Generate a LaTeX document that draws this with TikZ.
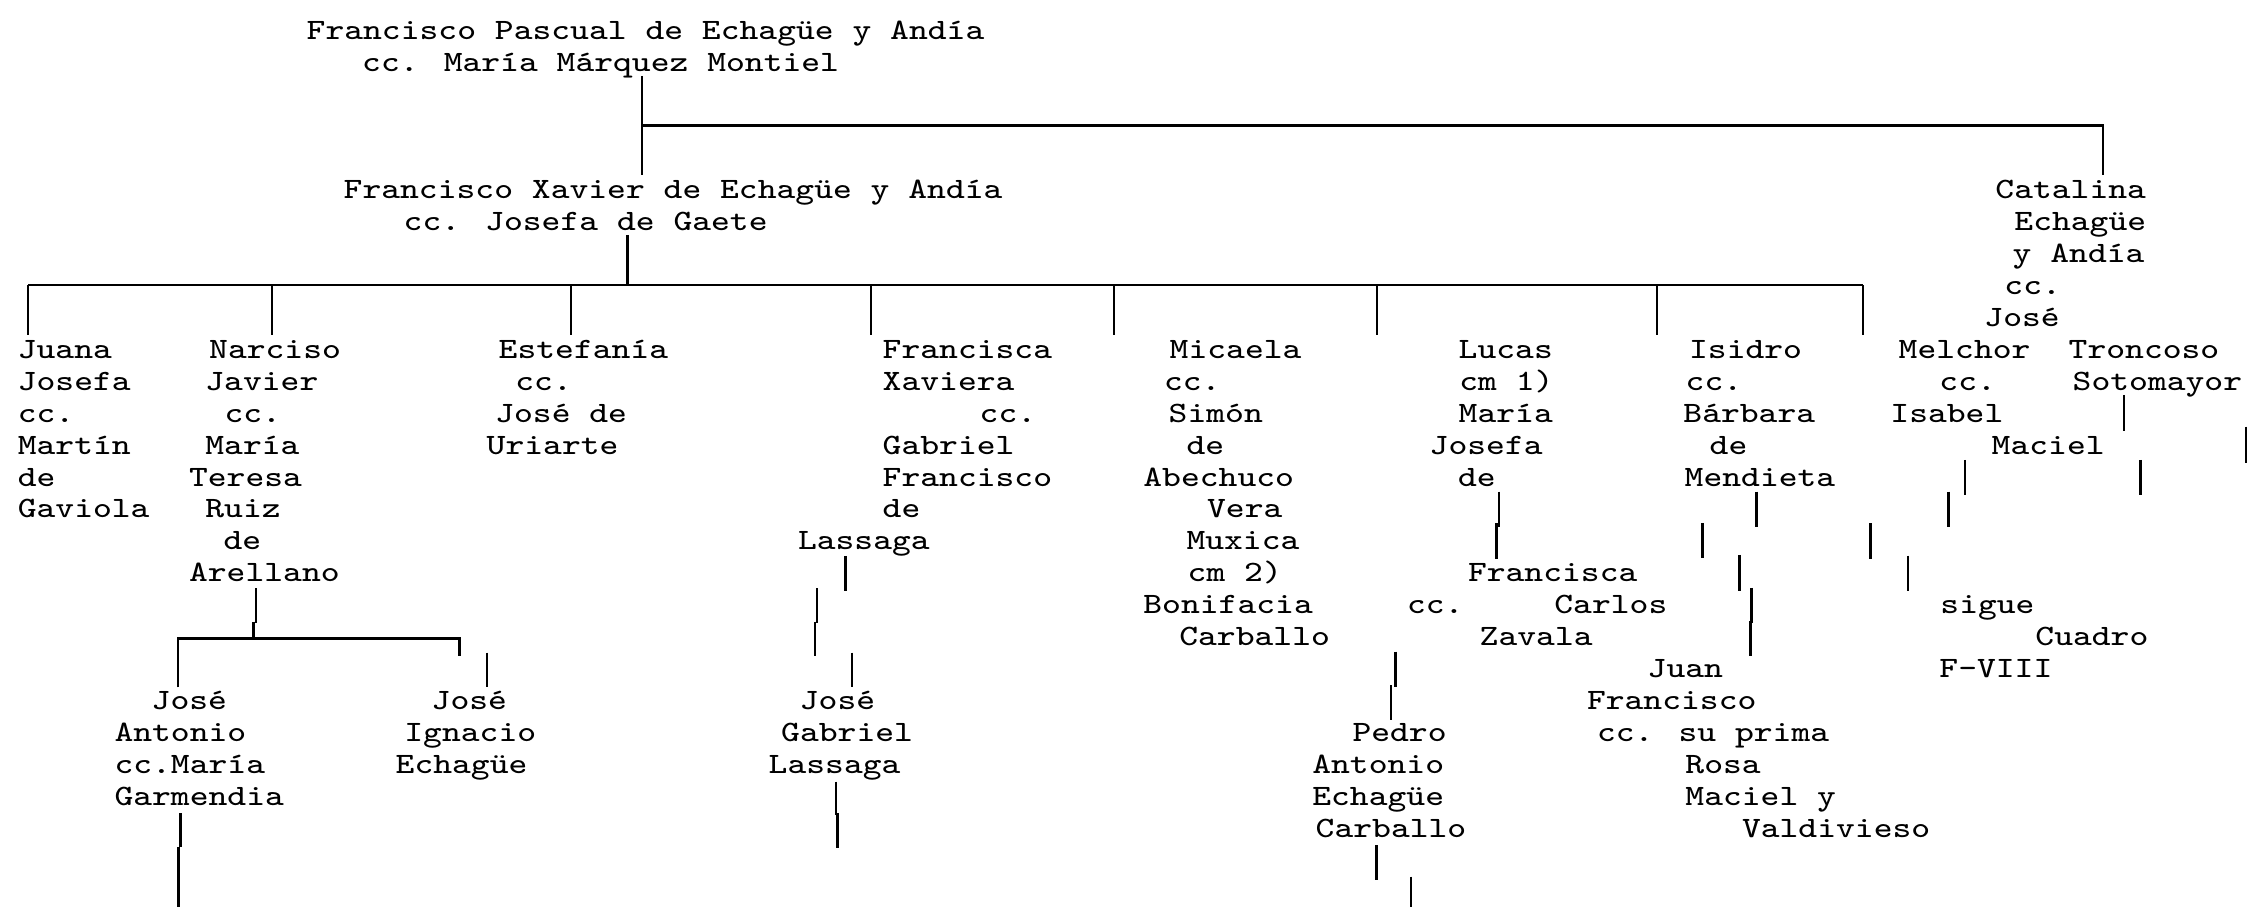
\documentclass[tikz,border=0pt]{standalone}
\usepackage{fontspec}
\newfontfamily\courfont[FakeStretch=1.2]{Latin Modern Mono}

\begin{document}
\begin{tikzpicture}
[lineFamily/.style={line width=0.8pt},%
  personLine/.style={anchor=base west, inner sep=0pt, xshift=-0.02cm,
    font=\courfont\fontsize{8.4pt}{9pt}\selectfont},%
  x=0.01cm, y=-0.01cm]
\useasboundingbox (0,0) rectangle (2252,907);
%% names, one node for each printed line (x, row)
\foreach \nodename/\x/\r/\txt in {
  pascualA/308/0/Francisco Pascual de Echagüe y Andía,
  pascualB/363.5/1/cc. María Márquez Montiel,
  xavierA/345/5/Francisco Xavier de Echagüe y Andía,
  xavierB/405/6/cc. Josefa de Gaete,
  catalinaA/1996.7/5/Catalina, catalinaB/2015.7/6/Echagüe,
  catalinaC/2014/7/y Andía, catalinaD/2005.7/8/cc.,
  catalinaE/1985.7/9/José, catalinaF/1900/10/Melchor,
  catalinaG/2070/10/Troncoso, catalinaH/1940.7/11/cc.,
  catalinaI/2074/11/Sotomayor, catalinaJ/1891.7/12/Isabel,
  catalinaK/1993/13/Maciel,
  sigueA/1941.7/18/sigue, sigueB/2036.7/19/Cuadro, sigueC/1940.7/20/F-VIII,
  juanaA/19.1/10/Juana, juanaB/19.1/11/Josefa, juanaC/19.1/12/cc.,
  juanaD/19.1/13/Martín, juanaE/19.1/14/de, juanaF/19.1/15/Gaviola,
  narcisoA/210.5/10/Narciso, narcisoB/206.7/11/Javier,
  narcisoC/225.8/12/cc., narcisoD/206.7/13/María,
  narcisoE/190.4/14/Teresa, narcisoF/206.7/15/Ruiz,
  narcisoG/224.9/16/de, narcisoH/190.4/17/Arellano,
  estefaniaA/500/10/Estefanía, estefaniaB/516.7/11/cc.,
  estefaniaC/496.6/12/José de, estefaniaD/488/13/Uriarte,
  franciscaA/884/10/Francisca, franciscaB/884/11/Xaviera,
  franciscaC/981/12/cc., franciscaD/884/13/Gabriel,
  franciscaE/884/14/Francisco, franciscaF/884/15/de,
  franciscaG/799.3/16/Lassaga,
  micaelaA/1171/10/Micaela, micaelaB/1165.3/11/cc.,
  micaelaC/1170/12/Simón, micaelaD/1187.8/13/de,
  micaelaE/1144.7/14/Abechuco, micaelaF/1208.4/15/Vera,
  micaelaG/1187.8/16/Muxica, micaelaH/1189/17/cm 2),
  micaelaI/1144.7/18/Bonifacia, micaelaJ/1180.6/19/Carballo,
  lucasA/1460/10/Lucas, lucasB/1460.7/11/cm 1), lucasC/1460/12/María,
  lucasD/1431/13/Josefa, lucasE/1459.3/14/de,
  zavalaA/1469.3/17/Francisca, zavalaB/1408.3/18/cc.,
  zavalaC/1555.7/18/Carlos, zavalaD/1481/19/Zavala,
  isidroA/1690.4/10/Isidro, isidroB/1687/11/cc., isidroC/1684.7/12/Bárbara,
  isidroD/1711/13/de, isidroE/1686/14/Mendieta,
  juanA/1649/20/Juan, juanB/1588.3/21/Francisco,
  juanC/1598.3/22/cc. su prima, juanD/1686.7/23/Rosa,
  juanE/1686.7/24/Maciel y, juanF/1743.3/25/Valdivieso,
  pedroA/1353.8/22/Pedro, pedroB/1313.6/23/Antonio,
  pedroC/1313.6/24/Echagüe, pedroD/1317/25/Carballo,
  antonioA/153/21/José, antonioB/115.8/22/Antonio,
  antonioC/115.8/23/cc.María, antonioD/115.8/24/Garmendia,
  ignacioA/433/21/José, ignacioB/405.7/22/Ignacio, ignacioC/397/23/Echagüe,
  gabrielA/801.2/21/José, gabrielB/782.5/22/Gabriel, gabrielC/770/23/Lassaga}
{
  \node[personLine] (\nodename) at (\x,39.5+31.9*\r) {\txt};
}
%% main branches
\coordinate (pascualStem) at (642,76);
\coordinate (xavierStem) at (642,175);
\coordinate (branchA) at (642,125.7);
\coordinate (catalinaStem) at (2103,175);
\draw[lineFamily] (pascualStem) -- (xavierStem);
\draw[lineFamily] (branchA) -| (catalinaStem);
\coordinate (sibStem) at (627.6,235);
\coordinate (sibBar) at (627.6,285);
\coordinate (sibL) at (28,285);
\coordinate (sibR) at (1863,285);
\draw[lineFamily] (sibStem) -- (sibBar);
\draw[lineFamily] (sibL) -- (sibR);
\foreach \x [count=\i] in {28,272,571,871,1114,1377,1657,1863}
{
  \coordinate (sib\i) at (\x,335);
  \draw[lineFamily] (sib\i) -- (sib\i |- sibBar);
}
%% Narciso's children
\coordinate (antonioStem) at (178,687.3);
\coordinate (narBarL) at (178,638.3);
\coordinate (ignacioStem) at (459.3,656);
\draw[lineFamily] (antonioStem) -- (narBarL) -| (ignacioStem);
%% loose stubs
\foreach \x/\ya/\yb [count=\i] in {
  256/588.3/623.3, 253.6/621.7/638.3, 487/652.7/687.3,
  180.9/813.3/846.7, 178.5/846.7/907,
  845.7/556/590.7, 817/588.3/623, 815/621.7/656, 852/652.7/687.3,
  836/781.7/815, 837.6/813.3/848.3,
  1499/491.7/526.7, 1496.7/523.3/559.3, 1395.7/651.7/687, 1391/685/720,
  1376.8/845/880, 1411/876.7/907,
  1756.6/491.7/526.7, 1702.4/523/558, 1739.8/555/590.7,
  1751.7/588/622.7, 1750.7/620.7/656,
  2124/395/430.7, 2246/426.7/463, 1965/460/495, 2140.7/460/495,
  1948.7/491.7/526.7, 1870.7/523.3/559, 1908/555.7/590.7}
{
  \coordinate (up\i) at (\x,\ya);
  \coordinate (dn\i) at (\x,\yb);
  \draw[lineFamily] (up\i) -- (dn\i);
}
\end{tikzpicture}
\end{document}
